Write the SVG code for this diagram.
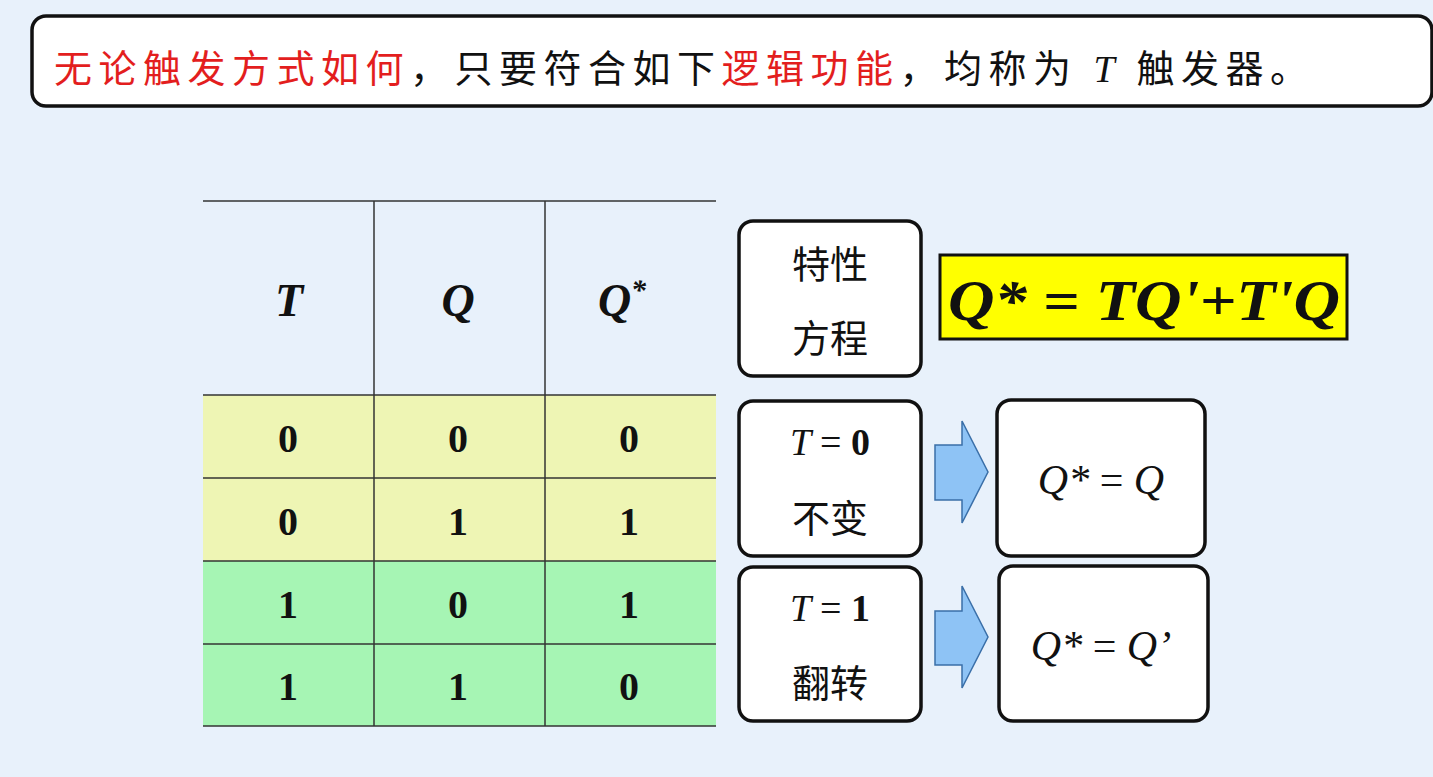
<svg xmlns="http://www.w3.org/2000/svg" width="1433" height="777" viewBox="0 0 1433 777">
<style>
.box{fill:#fff;stroke:#111;stroke-width:3.5}
.cn{font-family:"Noto Sans CJK SC",sans-serif;font-size:38px;fill:#111}
.it{font-family:"Liberation Serif",serif;font-style:italic;fill:#111}
.num{font-family:"Liberation Serif",serif;font-weight:bold;font-size:40px;fill:#111;text-anchor:middle}
.ln{stroke:#333;stroke-width:1.5}
.arr{fill:#8ec3f5;stroke:#3a6fa8;stroke-width:1.5}
</style>
<rect width="1433" height="777" fill="#e8f1fb"/>
<g id="header">
<rect class="box" x="32" y="16" width="1400" height="90" rx="14"/>
<text x="54" y="82" class="cn" style="font-size:38px;letter-spacing:6.5px"><tspan fill="#e31e1e">无论触发方式如何</tspan>，只要符合如下<tspan fill="#e31e1e">逻辑功能</tspan>，均称为<tspan font-family="Liberation Serif" font-style="italic"> T </tspan>触发器。</text>
</g>
<g id="table">
<rect x="203" y="395" width="513" height="166" fill="#eef5b4"/>
<rect x="203" y="561" width="513" height="165" fill="#a6f5b4"/>
<line class="ln" x1="203" y1="201" x2="716" y2="201"/>
<line class="ln" x1="203" y1="395" x2="716" y2="395"/>
<line class="ln" x1="203" y1="478" x2="716" y2="478"/>
<line class="ln" x1="203" y1="561" x2="716" y2="561"/>
<line class="ln" x1="203" y1="644" x2="716" y2="644"/>
<line class="ln" x1="203" y1="726" x2="716" y2="726"/>
<line class="ln" x1="374" y1="201" x2="374" y2="726"/>
<line class="ln" x1="545" y1="201" x2="545" y2="726"/>
<g class="it" font-size="46" font-weight="bold" text-anchor="middle">
<text x="289" y="316">T</text><text x="458" y="316">Q</text><text x="622" y="316">Q<tspan font-size="30" dy="-16">*</tspan></text>
</g>
<text class="num" x="288" y="452">0</text><text class="num" x="458" y="452">0</text><text class="num" x="629" y="452">0</text>
<text class="num" x="288" y="535">0</text><text class="num" x="458" y="535">1</text><text class="num" x="629" y="535">1</text>
<text class="num" x="288" y="618">1</text><text class="num" x="458" y="618">0</text><text class="num" x="629" y="618">1</text>
<text class="num" x="288" y="700">1</text><text class="num" x="458" y="700">1</text><text class="num" x="629" y="700">0</text>
</g>
<g id="char">
<rect class="box" x="739" y="221" width="182" height="155" rx="14"/>
<text class="cn" x="830" y="278" text-anchor="middle">特性</text>
<text class="cn" x="830" y="352" text-anchor="middle">方程</text>
</g>
<g id="eq">
<rect x="940" y="255" width="407" height="84" fill="#ffff00" stroke="#111" stroke-width="3"/>
<text class="it" x="948" y="320" font-size="56" font-weight="bold" textLength="392" lengthAdjust="spacingAndGlyphs">Q* = TQ'+T'Q</text>
</g>
<g id="t0">
<rect class="box" x="739" y="401" width="182" height="155" rx="14"/>
<text class="it" x="830" y="455" font-size="38" text-anchor="middle">T <tspan font-style="normal">=</tspan> <tspan font-style="normal" font-weight="bold">0</tspan></text>
<text class="cn" x="830" y="532" text-anchor="middle">不变</text>
</g>
<g id="t1">
<rect class="box" x="739" y="567" width="182" height="154" rx="14"/>
<text class="it" x="830" y="621" font-size="38" text-anchor="middle">T <tspan font-style="normal">=</tspan> <tspan font-style="normal" font-weight="bold">1</tspan></text>
<text class="cn" x="830" y="697" text-anchor="middle">翻转</text>
</g>
<g id="r0">
<rect class="box" x="997" y="400" width="208" height="156" rx="14"/>
<text class="it" x="1101" y="494" font-size="42" text-anchor="middle">Q* <tspan font-style="normal">=</tspan> Q</text>
</g>
<g id="r1">
<rect class="box" x="999" y="566" width="209" height="155" rx="14"/>
<text class="it" x="1101" y="660" font-size="42" text-anchor="middle">Q* <tspan font-style="normal">=</tspan> Q’</text>
</g>
<g id="connectors">
<path class="arr" d="M935,445 H962 V421 L988,472 L962,523 V500 H935 Z"/>
<path class="arr" d="M935,611 H962 V586 L988,637 L962,688 V665 H935 Z"/>
</g>
</svg>
